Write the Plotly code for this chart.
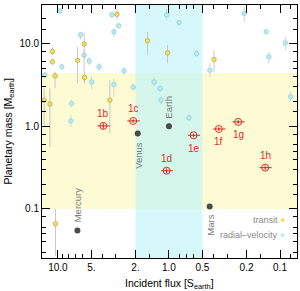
import plotly.graph_objects as go
import math

# ---------------- data ----------------
# TRAPPIST-1 planets
tr_names = ["1b", "1c", "1d", "1e", "1f", "1g", "1h"]
tr_flux = [3.9, 2.1, 1.05, 0.60, 0.355, 0.238, 0.136]
tr_mass = [1.01, 1.16, 0.29, 0.778, 0.927, 1.13, 0.316]
tr_flux_err = [0.5, 0.27, 0.13, 0.075, 0.045, 0.03, 0.017]
tr_mass_err = [0.08, 0.06, 0.02, 0.04, 0.05, 0.06, 0.02]
tr_label_pos = ["above", "above", "above", "below", "below", "below", "above"]

# Solar system
ss_names = ["Mercury", "Venus", "Earth", "Mars"]
ss_flux = [6.67, 1.91, 1.0, 0.43]
ss_mass = [0.055, 0.815, 1.0, 0.107]
ss_label_pos = ["above", "below", "above", "below"]

# Other exoplanets - transit
t_flux = [2.94, 5.8, 11.2, 6.65, 11.2, 10.6, 5.75, 13.3, 11.8, 3.4, 1.56, 1.03, 0.393, 10.5]
t_mass = [22.6, 9.86, 8.04, 6.27, 6.02, 4.07, 3.9, 2.07, 1.86, 2.07, 10.8, 7.74, 6.43, 0.066]
t_hi = [26.0, 13.4, 9.0, 9.1, 6.6, 4.6, 4.3, 2.87, 2.87, 3.6, 13.9, 9.6, 8.3, 0.1]
t_lo = [19.5, 3.3, 7.2, 3.3, 5.5, 2.9, 3.4, 0.98, 0.56, 0.82, 7.3, 5.75, 4.55, 0.0273]

# Other exoplanets - radial velocity
r_flux = [3.26, 2.84, 3.13, 6.24, 5.8, 5.22, 9.2, 4.25, 2.54, 4.97, 3.13, 2.1, 7.53, 7.64,
          1.05, 0.81, 0.563, 0.428, 0.21, 0.133, 0.0896, 0.126, 1.36, 1.2, 1.18, 0.66, 0.0804, 9.6, 13.1]
r_mass = [22.3, 16.4, 13.9, 12.8, 7.25, 6.14, 5.23, 5.23, 4.68, 3.44, 3.2, 2.97, 1.88, 1.16,
          22.2, 17.9, 7.6, 4.77, 23.2, 13.9, 10.2, 6.92, 3.44, 2.86, 2.07, 1.27, 2.28, 24.8, 4.15]
r_hi = [24.0, 17.5, 15.5, 13.9, 8.3, 6.9, 5.6, 5.8, 5.25, 4.0, 3.8, 3.3, 2.1, 1.36,
        26.0, 19.5, 8.4, 5.8, 27.7, 14.8, 12.1, 7.95, 3.9, 3.1, 2.3, 1.4, 2.6, 27.0, 4.5]
r_lo = [20.8, 15.3, 12.0, 11.0, 6.6, 5.5, 4.9, 4.7, 4.15, 2.8, 2.27, 2.7, 1.7, 0.98,
        19.0, 16.5, 6.9, 3.95, 18.3, 13.0, 8.3, 5.75, 3.0, 2.6, 1.85, 1.15, 2.0, 22.5, 3.8]

# regions
rocky_mass_range = [0.1, 4.4]
temperate_flux_range = [2.0, 0.5]

# axes
x_tickvals = [10, 5, 2, 1, 0.5, 0.2, 0.1]
x_ticktext = ["10.0", "5.", "2.", "1.0", "0.5", "0.2", "0.1"]
x_minor = [9, 8, 7, 6, 4, 3, 1.5, 0.8, 0.7, 0.6, 0.4, 0.3, 0.15, 0.08]
y_tickvals = [10, 1, 0.1]
y_ticktext = ["10.0", "1.0", "0.1"]
y_minor = [20, 15, 8, 6, 5, 4, 3, 2, 1.5, 0.8, 0.6, 0.5, 0.4, 0.3, 0.2, 0.15,
           0.08, 0.06, 0.05, 0.04, 0.03]

FONT = "Liberation Sans, Arial, sans-serif"
RED = "#dc2a2a"
YEL_FILL = "#f2e262"
YEL_LINE = "#b3a044"
CYA_FILL = "#b4eef6"
CYA_LINE = "#8cccd8"

fig = go.Figure()

# background regions
fig.add_shape(type="rect", xref="paper", x0=0, x1=1, yref="y",
              y0=rocky_mass_range[0], y1=rocky_mass_range[1],
              fillcolor="#fdfbd4", line_width=0, layer="below")
fig.add_shape(type="rect", xref="x", x0=temperate_flux_range[0], x1=temperate_flux_range[1],
              yref="paper", y0=0, y1=1,
              fillcolor="rgba(187,243,248,0.6)", line_width=0, layer="below")

# radial-velocity planets
fig.add_trace(go.Scatter(
    x=r_flux, y=r_mass, mode="markers",
    marker=dict(size=4.5, color=CYA_FILL, line=dict(color=CYA_LINE, width=0.7)),
    error_y=dict(type="data", symmetric=False,
                 array=[h - m for h, m in zip(r_hi, r_mass)],
                 arrayminus=[m - l for m, l in zip(r_mass, r_lo)],
                 color="#d4d4d4", thickness=1, width=0),
    showlegend=False, hoverinfo="skip"))

# transit planets
fig.add_trace(go.Scatter(
    x=t_flux, y=t_mass, mode="markers",
    marker=dict(size=4.5, color=YEL_FILL, line=dict(color=YEL_LINE, width=0.7)),
    error_y=dict(type="data", symmetric=False,
                 array=[h - m for h, m in zip(t_hi, t_mass)],
                 arrayminus=[m - l for m, l in zip(t_mass, t_lo)],
                 color="#c8c8c8", thickness=1, width=0),
    showlegend=False, hoverinfo="skip"))

# solar system
fig.add_trace(go.Scatter(
    x=ss_flux, y=ss_mass, mode="markers",
    marker=dict(size=6, color="#4a4a4a"),
    showlegend=False, hoverinfo="skip"))

# TRAPPIST-1
fig.add_trace(go.Scatter(
    x=tr_flux, y=tr_mass, mode="markers",
    marker=dict(size=7, symbol="circle-open-dot", color=RED, line=dict(width=1, color=RED)),
    error_x=dict(type="data", array=tr_flux_err, color=RED, thickness=1, width=0),
    error_y=dict(type="data", array=tr_mass_err, color=RED, thickness=1, width=0),
    showlegend=False, hoverinfo="skip"))

for n, fx, m, pos in zip(tr_names, tr_flux, tr_mass, tr_label_pos):
    fig.add_annotation(x=math.log10(fx), y=math.log10(m), text=n, showarrow=False,
                       font=dict(family=FONT, size=10, color=RED),
                       yshift=12 if pos == "above" else -13)

for n, fx, m, pos in zip(ss_names, ss_flux, ss_mass, ss_label_pos):
    fig.add_annotation(x=math.log10(fx), y=math.log10(m), text=n, showarrow=False,
                       textangle=-90, font=dict(family=FONT, size=9.5, color="#7a7a7a"),
                       yanchor="bottom" if pos == "above" else "top",
                       yshift=6 if pos == "above" else -6)

# legend (text then symbol)
fig.add_annotation(xref="paper", yref="paper", x=0.962, y=0.121, xanchor="right",
                   text="transit <span style='color:%s'>●</span>" % YEL_FILL,
                   showarrow=False, font=dict(family=FONT, size=9, color="#8a8a8a"))
fig.add_annotation(xref="paper", yref="paper", x=0.962, y=0.064, xanchor="right",
                   text="radial\u2013velocity <span style='color:%s'>●</span>" % CYA_FILL,
                   showarrow=False, font=dict(family=FONT, size=9, color="#8a8a8a"))

# axis titles
fig.add_annotation(xref="paper", yref="paper", x=0.5, y=-0.103, yanchor="middle",
                   text="Incident flux [S<sub>earth</sub>]", showarrow=False,
                   font=dict(family=FONT, size=10.5, color="black"))
fig.add_annotation(xref="paper", yref="paper", x=-0.133, y=0.5, xanchor="center",
                   textangle=-90, text="Planetary mass [M<sub>earth</sub>]", showarrow=False,
                   font=dict(family=FONT, size=10.5, color="black"))

axis_common = dict(
    type="log", showgrid=False, zeroline=False, showline=True, linecolor="black",
    linewidth=1, mirror="ticks", ticks="inside", ticklen=8, tickcolor="black",
    tickwidth=1, tickfont=dict(family=FONT, size=10, color="black"), automargin=False,
)

fig.update_xaxes(
    **axis_common,
    range=[math.log10(13.9), math.log10(0.0703)],
    tickmode="array", tickvals=x_tickvals, ticktext=x_ticktext,
    minor=dict(tickmode="array", tickvals=x_minor, ticks="inside", ticklen=4,
               tickcolor="black", showgrid=False),
)
fig.update_yaxes(
    **axis_common,
    range=[math.log10(0.0255), math.log10(29.3)],
    tickmode="array", tickvals=y_tickvals, ticktext=y_ticktext,
    minor=dict(tickmode="array", tickvals=y_minor, ticks="inside", ticklen=4,
               tickcolor="black", showgrid=False),
)

fig.update_layout(
    width=300, height=291,
    margin=dict(l=42, r=3, t=5, b=33),
    plot_bgcolor="white", paper_bgcolor="white",
    showlegend=False,
)

fig.write_html("out.html", config={"displayModeBar": False},
               post_script="document.body.style.margin='0px';document.body.style.overflow='hidden';")
